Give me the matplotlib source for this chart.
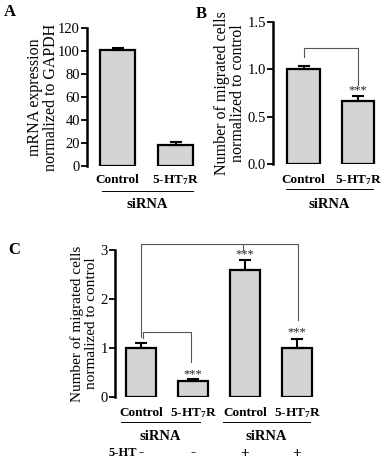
import matplotlib
matplotlib.use('Agg')
import matplotlib.pyplot as plt
from matplotlib.transforms import offset_copy

plt.rcParams['font.family'] = ['Liberation Serif', 'DejaVu Serif']
plt.rcParams['mathtext.fontset'] = 'custom'
plt.rcParams['mathtext.rm'] = 'Liberation Serif'
plt.rcParams['mathtext.it'] = 'Liberation Serif:italic'
plt.rcParams['mathtext.bf'] = 'Liberation Serif:bold'

# data
labels_ab = ['Control', r'5-HT$_\mathbf{7}$R']
mrna = [101, 18]
mrna_err = [1.5, 2.8]

migr_b = [1.0, 0.67]
migr_b_err = [0.03, 0.045]

labels_c = ['Control', r'5-HT$_\mathbf{7}$R', 'Control', r'5-HT$_\mathbf{7}$R']
migr_c = [1.0, 0.32, 2.6, 0.99]
migr_c_err = [0.11, 0.04, 0.2, 0.2]
serotonin = ['-', '-', '+', '+']

# significance brackets (x path, y path) and stars (x, y) in data units
brackets_b = [([0, 0, 1, 1], [1.13, 1.23, 1.23, 0.83])]
stars_b = [(1, 0.78)]
brackets_c = [([0.04, 0.04, 0.96, 0.96], [1.2, 1.33, 1.33, 0.71]),
              ([0, 0, 1.96, 1.96], [1.22, 3.12, 3.12, 3.0]),
              ([1.98, 3.02, 3.02], [3.12, 3.12, 1.57])]
stars_c = [(1, 0.47), (2, 2.92), (3, 1.33)]

W, H = 388, 463
fig = plt.figure(figsize=(W / 100, H / 100), dpi=100)

BAR_W = 0.59
GRAY = '#d4d4d4'


def make_ax(left, top, bottom, right, c0, step, ylim, yticks, fmt):
    ax = fig.add_axes([left / W, 1 - bottom / H, (right - left) / W, (bottom - top) / H])
    ax.set_xlim(-(c0 - left) / step, (right - c0) / step)
    ax.set_ylim(*ylim)
    ax.set_yticks(yticks)
    ax.set_yticklabels([fmt.format(t) for t in yticks])
    for s in ['top', 'right', 'bottom']:
        ax.spines[s].set_visible(False)
    ax.spines['left'].set_linewidth(1.8)
    ax.tick_params(axis='y', direction='out', length=4, width=1.3, labelsize=10.5, pad=1)
    ax.set_xticks([])
    ax.patch.set_alpha(0)
    return ax


def below(ax, px):
    return offset_copy(ax.get_xaxis_transform(), fig=fig, y=-px, units='dots')


def bars(ax, vals, errs):
    x = range(len(vals))
    ax.bar(x, vals, width=BAR_W, color=GRAY, edgecolor='black', linewidth=1.6,
           yerr=[[0] * len(vals), errs], capsize=4,
           error_kw=dict(elinewidth=1.5, capthick=1.5, ecolor='black'))


def xlabels(ax, labels, px=15):
    for i, lab in enumerate(labels):
        ax.text(i, 0, lab, transform=below(ax, px), ha='center', va='center',
                fontsize=9.5, fontweight='bold')


def sirna(ax, x0, x1, line_px, text_px):
    ax.plot([x0, x1], [0, 0], color='black', lw=0.7, transform=below(ax, line_px), clip_on=False)
    ax.text((x0 + x1) / 2, 0, 'siRNA', transform=below(ax, text_px), ha='center', va='center',
            fontsize=10.5, fontweight='bold')


def ylabel(ax, text, px, size):
    ax.text(0, 0.5, text, transform=offset_copy(ax.transAxes, fig=fig, x=-px, units='dots'),
            rotation=90, ha='center', va='center', fontsize=size, linespacing=1.05)


def sig(ax, brackets, stars):
    for xs, ys in brackets:
        ax.plot(xs, ys, color='#555555', lw=0.8, clip_on=False)
    for x, y in stars:
        ax.text(x, y, '***', ha='center', va='center', fontsize=9, color='#222222')


# A
axA = make_ax(87, 28, 166, 205, 117.5, 58, (0, 120), [0, 20, 40, 60, 80, 100, 120], '{}')
bars(axA, mrna, mrna_err)
xlabels(axA, labels_ab, 14)
sirna(axA, -0.27, 1.3, 25, 39)
ylabel(axA, 'mRNA expression\nnormalized to GAPDH', 44, 11.5)

# B
axB = make_ax(273, 22, 164, 386, 303.5, 54.5, (0, 1.5), [0, 0.5, 1.0, 1.5], '{:.1f}')
bars(axB, migr_b, migr_b_err)
xlabels(axB, labels_ab, 16)
sirna(axB, -0.32, 1.28, 25, 41)
ylabel(axB, 'Number of migrated cells\nnormalized to control', 43, 11.5)
sig(axB, brackets_b, stars_b)

# C
axC = make_ax(115, 250, 397, 330, 141, 52, (0, 3), [0, 1, 2, 3], '{}')
bars(axC, migr_c, migr_c_err)
xlabels(axC, labels_c, 16)
sirna(axC, -0.38, 1.13, 25, 39)
sirna(axC, 1.58, 3.25, 25, 39)
ylabel(axC, 'Number of migrated cells\nnormalized to control', 31, 11)
sig(axC, brackets_c, stars_c)
axC.text(-0.63, 0, '5-HT', transform=below(axC, 56), ha='left', va='center',
         fontsize=9, fontweight='bold')
for i, s in enumerate(serotonin):
    axC.text(i, 0, s, transform=below(axC, 56), ha='center', va='center',
             fontsize=11, fontweight='bold')

# panel letters
fig.text(10 / W, 1 - 12 / H, 'A', fontsize=12, fontweight='bold', ha='center', va='center')
fig.text(201 / W, 1 - 14 / H, 'B', fontsize=12, fontweight='bold', ha='center', va='center')
fig.text(14 / W, 1 - 250 / H, 'C', fontsize=12, fontweight='bold', ha='center', va='center')

fig.savefig('out.png', dpi=100)
